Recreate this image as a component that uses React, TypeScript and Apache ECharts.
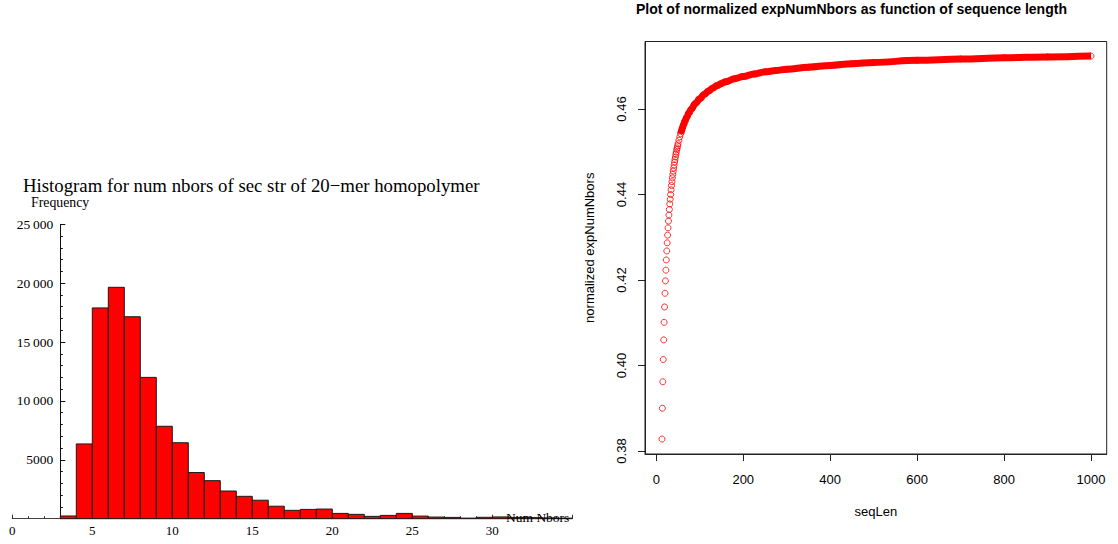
import React, { useEffect, useRef } from "react";
import * as echarts from "echarts";

// ---------- Left: histogram data ----------
const histBinStarts = [3, 4, 5, 6, 7, 8, 9, 10, 11, 12, 13, 14, 15, 16, 17, 18, 19, 20, 21, 22, 23, 24, 25, 26, 27, 28, 29, 30, 31, 32, 33, 34];
const histCounts = [230, 6350, 17900, 19650, 17150, 12000, 7850, 6450, 3920, 3230, 2350, 1900, 1570, 1060, 710, 790, 820, 450, 370, 200, 280, 450, 220, 140, 110, 50, 120, 150, 110, 90, 70, 50];
const histXTicks = [0, 5, 10, 15, 20, 25, 30];
const histYTicks = [0, 5000, 10000, 15000, 20000, 25000];
const histYTickLabels = ["", "5000", "10\u2009000", "15\u2009000", "20\u2009000", "25\u2009000"];

// ---------- Right: scatter data ----------
const seqLen = [
  13, 14, 15, 16, 17, 18, 19, 20, 21, 22, 23, 24, 25, 26, 27, 28, 29, 30, 31, 32, 33, 34, 35,
  36, 37, 38, 39, 40, 41, 42, 43, 44, 45, 46, 47, 48, 49, 50, 52, 54, 56, 58, 60, 63, 66, 70,
  75, 80, 90, 100, 110, 120, 130, 140, 150, 160, 180, 200, 225, 250, 275, 300, 350, 400, 450,
  500, 600, 700, 800, 900, 1000,
];
const expNumNbors = [
  0.3828, 0.39, 0.3962, 0.4014, 0.406, 0.4101, 0.4137, 0.4169, 0.4198, 0.4223, 0.4247, 0.4268,
  0.4287, 0.4305, 0.4322, 0.4338, 0.4352, 0.4365, 0.4378, 0.4389, 0.44, 0.4411, 0.4421,
  0.443, 0.4439, 0.4447, 0.4455, 0.4462, 0.4469, 0.4476, 0.4482, 0.4488, 0.4494, 0.4499, 0.4505,
  0.4509, 0.4514, 0.4519, 0.4527, 0.4535, 0.4542, 0.4549, 0.4556, 0.4564, 0.4572, 0.4581,
  0.4591, 0.4599, 0.4613, 0.4624, 0.4634, 0.4642, 0.4649, 0.4655, 0.466, 0.4664, 0.4671,
  0.4676, 0.4682, 0.4687, 0.469, 0.4693, 0.4698, 0.4702, 0.4706, 0.4709, 0.4714, 0.4717,
  0.472, 0.4722, 0.4724,
];
const scatterXTicks = [0, 200, 400, 600, 800, 1000];
const scatterYTicks = [0.38, 0.4, 0.42, 0.44, 0.46];
const bandFromSeqLen = 56;

const SERIF = "'Liberation Serif', 'Times New Roman', serif";
const SANS = "'Liberation Sans', Arial, Helvetica, sans-serif";

export default function App() {
  const ref = useRef<HTMLDivElement>(null);

  useEffect(() => {
    document.body.style.margin = "0";
    if (!ref.current) return;
    const chart = echarts.init(ref.current, undefined, { renderer: "svg" });

    const histData = histBinStarts.map((s, i) => [s, s + 1, histCounts[i]]);
    const points = seqLen.map((x, i) => [x, expNumNbors[i]]);
    const bandPoints = points.filter((p) => p[0] >= bandFromSeqLen);

    const option: any = {
      animation: false,
      backgroundColor: "#ffffff",
      grid: [
        { left: 12.3, top: 224.3, width: 560, height: 294.4, outerBoundsMode: "none" },
        {
          left: 645, top: 41.5, width: 461.7, height: 412.5, outerBoundsMode: "none",
          show: true, borderColor: "#222", borderWidth: 1, backgroundColor: "transparent",
        },
      ],
      xAxis: [
        {
          gridIndex: 0, type: "value", min: 0, max: 35, interval: 5,
          axisLine: { show: true, lineStyle: { color: "#444", width: 1 } },
          axisTick: { show: true, inside: true, length: 4, lineStyle: { color: "#333" } },
          minorTick: { show: true, splitNumber: 5, length: 2.5, lineStyle: { color: "#333" } },
          splitLine: { show: false },
          axisLabel: {
            customValues: histXTicks, margin: 5, color: "#000",
            fontFamily: SERIF, fontSize: 13,
            formatter: (v: number) => String(v),
          },
        },
        {
          gridIndex: 1, type: "value", min: -26, max: 1036,
          axisLine: { show: true, onZero: false, lineStyle: { color: "#222", width: 1 } },
          axisTick: { show: true, inside: false, length: 7, customValues: scatterXTicks, lineStyle: { color: "#222" } },
          splitLine: { show: false },
          axisLabel: {
            customValues: scatterXTicks, margin: 19, color: "#000",
            fontFamily: SANS, fontSize: 13,
            formatter: (v: number) => String(v),
          },
          name: "seqLen", nameLocation: "middle", nameGap: 51,
          nameTextStyle: { fontFamily: SANS, fontSize: 13, color: "#000" },
        },
      ],
      yAxis: [
        {
          gridIndex: 0, type: "value", min: 0, max: 25000, interval: 5000, offset: -48,
          axisLine: { show: true, onZero: false, lineStyle: { color: "#111", width: 1 } },
          axisTick: { show: true, inside: true, length: 5, lineStyle: { color: "#111" } },
          minorTick: { show: true, splitNumber: 5, length: 2.5, lineStyle: { color: "#111" } },
          splitLine: { show: false },
          axisLabel: {
            margin: 7, color: "#000", fontFamily: SERIF, fontSize: 13.5,
            formatter: (v: number) => {
              const i = histYTicks.indexOf(v);
              return i >= 0 ? histYTickLabels[i] : "";
            },
          },
        },
        {
          gridIndex: 1, type: "value", min: 0.3793, max: 0.4758,
          axisLine: { show: true, onZero: false, lineStyle: { color: "#222", width: 1 } },
          axisTick: { show: true, inside: false, length: 7, customValues: scatterYTicks, lineStyle: { color: "#222" } },
          splitLine: { show: false },
          axisLabel: {
            customValues: scatterYTicks, rotate: 90, margin: 17, color: "#000",
            fontFamily: SANS, fontSize: 13,
            formatter: (v: number) => v.toFixed(2),
          },
          name: "normalized expNumNbors", nameLocation: "middle", nameGap: 49, nameRotate: 90,
          nameTextStyle: { fontFamily: SANS, fontSize: 13, color: "#000" },
        },
      ],
      series: [
        {
          type: "custom",
          xAxisIndex: 0, yAxisIndex: 0,
          data: histData,
          encode: { x: [0, 1], y: 2 },
          renderItem: (params: any, api: any) => {
            const x0 = api.value(0);
            const x1 = api.value(1);
            const h = api.value(2);
            const pTop = api.coord([x0, h]);
            const pBot = api.coord([x1, 0]);
            return {
              type: "rect",
              shape: { x: pTop[0], y: pTop[1], width: pBot[0] - pTop[0], height: pBot[1] - pTop[1] },
              style: { fill: "#ff0000", stroke: "#1a1a1a", lineWidth: 1 },
            };
          },
          z: 3,
        },
        {
          type: "line",
          xAxisIndex: 1, yAxisIndex: 1,
          data: bandPoints,
          showSymbol: false,
          smooth: 0.4,
          smoothMonotone: "x",
          lineStyle: { color: "#ff0000", width: 7, cap: "butt", join: "round" },
          z: 2,
        },
        {
          type: "scatter",
          xAxisIndex: 1, yAxisIndex: 1,
          data: points,
          symbol: "circle",
          symbolSize: 6,
          itemStyle: { color: "rgba(0,0,0,0)", borderColor: "#ff0000", borderWidth: 1 },
          z: 3,
        },
      ],
      graphic: [
        {
          type: "text", left: 23, top: 176,
          style: {
            text: "Histogram for num nbors of sec str of 20\u2212mer homopolymer",
            font: `18.8px ${SERIF}`, fill: "#000",
          },
        },
        {
          type: "text", left: 31, top: 195,
          style: { text: "Frequency", font: `13.8px ${SERIF}`, fill: "#000" },
        },
        {
          type: "text", left: 506, top: 510,
          style: { text: "Num Nbors", font: `13.5px ${SERIF}`, fill: "#000" },
          z: 10,
        },
        {
          type: "text", left: 636, top: 2,
          style: {
            text: "Plot of normalized expNumNbors as function of sequence length",
            font: `bold 14px ${SANS}`, fill: "#000",
          },
        },
      ],
    };

    chart.setOption(option);
    return () => chart.dispose();
  }, []);

  return <div ref={ref} style={{ width: 1118, height: 544 }} />;
}
